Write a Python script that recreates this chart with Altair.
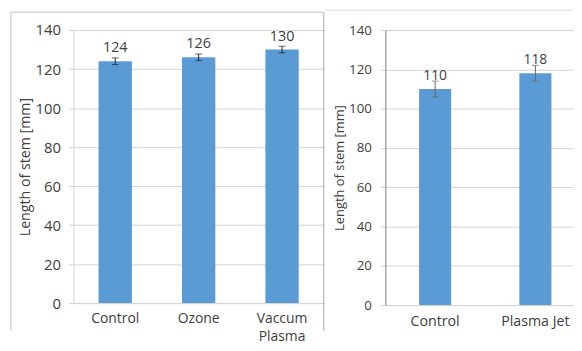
import altair as alt
import pandas as pd

# ---- data ----
cats_a = ["Control", "Ozone", "Vaccum Plasma"]
vals_a = [124, 126, 130]
errs_a = [1.7, 1.7, 1.7]

cats_b = ["Control", "Plasma Jet"]
vals_b = [110, 118]
errs_b = [4, 4]

y_ticks = [0, 20, 40, 60, 80, 100, 120, 140]
y_title = "Length of stem [mm]"

BAR = "#5B9BD5"
FONT = "Open Sans"
TXT = "#404040"
GRID = "#D4D4D4"


def make_df(cats, vals, errs):
    return pd.DataFrame({
        "cat": cats,
        "val": vals,
        "lo": [v - e for v, e in zip(vals, errs)],
        "hi": [v + e for v, e in zip(vals, errs)],
    })


def panel(cats, vals, errs, width, height, x_scale, x_axis, y_domain_color,
          err_color, fs_lab, fs_title, fs_text, lab_pad, title_pad, borders):
    df = make_df(cats, vals, errs)
    yscale = alt.Scale(domain=[0, 140], nice=False, zero=True)
    base = alt.Chart(df).encode(
        x=alt.X("cat:N", sort=cats, scale=x_scale, axis=x_axis, title=None)
    )
    bars = base.mark_bar(color=BAR).encode(
        y=alt.Y("val:Q", scale=yscale,
                axis=alt.Axis(values=y_ticks, tickCount=len(y_ticks) + 2,
                              title=y_title, grid=True,
                              gridColor=GRID, domainColor=y_domain_color,
                              tickColor=GRID, tickSize=5, labelPadding=lab_pad,
                              labelOverlap=False, labelFlush=False,
                              labelFont=FONT, labelFontSize=fs_lab, labelColor=TXT,
                              titleFont=FONT, titleFontSize=fs_title,
                              titleFontWeight="normal", titleColor=TXT,
                              titlePadding=title_pad))
    )
    rule = base.mark_rule(color=err_color, strokeWidth=1).encode(
        y=alt.Y("lo:Q", scale=yscale), y2="hi:Q")
    cap_lo = base.mark_tick(orient="horizontal", size=7, thickness=1,
                            color=err_color).encode(y=alt.Y("lo:Q", scale=yscale))
    cap_hi = base.mark_tick(orient="horizontal", size=7, thickness=1,
                            color=err_color).encode(y=alt.Y("hi:Q", scale=yscale))
    text = base.mark_text(dy=-9, baseline="alphabetic", font=FONT,
                          fontSize=fs_text, color=TXT).encode(
        y=alt.Y("val:Q", scale=yscale), text="val:Q")
    layers = [bars, rule, cap_lo, cap_hi, text]
    one = pd.DataFrame({"k": [0]})
    for b in borders:
        enc = {k: alt.value(v) for k, v in b.items() if k != "color"}
        layers.append(alt.Chart(one).mark_rule(color=b["color"], strokeWidth=1).encode(**enc))
    return alt.layer(*layers).properties(width=width, height=height)


x_axis_a = alt.Axis(labelAngle=0, ticks=False, tickSize=0, domain=True,
                    domainColor=GRID, labelPadding=16, labelBaseline="middle",
                    labelFont=FONT, labelFontSize=14, labelColor=TXT,
                    labelLineHeight=18,
                    labelExpr="datum.label == 'Vaccum Plasma' ? ['Vaccum', 'Plasma'] : datum.label")
x_axis_b = alt.Axis(labelAngle=0, ticks=False, tickSize=0, domain=True,
                    domainColor=GRID, labelPadding=17, labelBaseline="middle",
                    labelFont=FONT, labelFontSize=14.3, labelColor=TXT)

left = panel(cats_a, vals_a, errs_a, 252, 275,
             alt.Scale(paddingInner=0.6, paddingOuter=0.3),
             x_axis_a, GRID, "#222222", 15, 14.3, 14.5, 8, 3,
             borders=[
                 {"x": -63, "y": -18, "y2": 303, "color": "#BDBDBD"},
                 {"x": -63, "x2": 252, "y": -18, "color": "#BDBDBD"},
                 {"x": 252, "y": -18, "y2": 303, "color": "#A6A6A6"},
             ])

right = panel(cats_b, vals_b, errs_b, 189, 277,
              alt.Scale(paddingInner=0.68, paddingOuter=0.276, align=0.61),
              x_axis_b, "#7F7F7F", "#666666", 13.4, 13, 14, 9, 2,
              borders=[
                  {"x": -60, "x2": 189, "y": -20, "color": "#DDDDDD"},
              ])

chart = alt.hconcat(left, right, spacing=0).properties(
    padding={"left": 2, "top": 0, "right": 0, "bottom": 0}
).configure_view(stroke=None)

chart.save("out.html", embed_options={"renderer": "svg", "actions": False})
